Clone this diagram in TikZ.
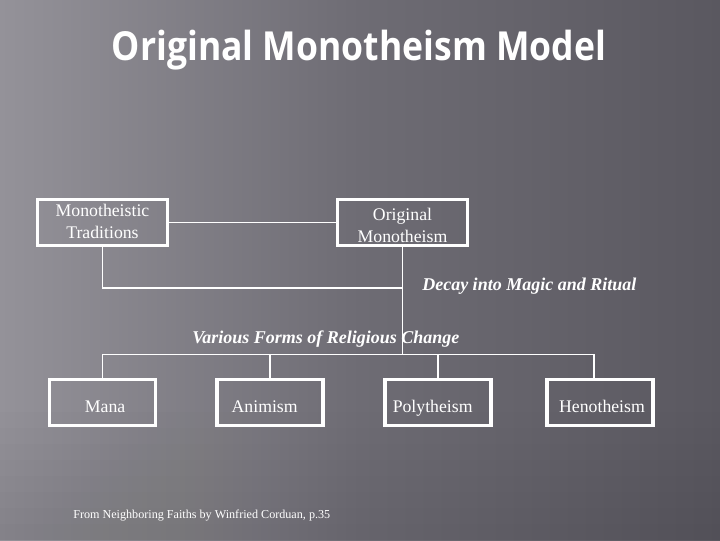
\documentclass[tikz,border=0pt]{standalone}
\usepackage{fontspec}
\usepackage{graphicx}
\setmainfont{Liberation Serif}
\newfontfamily\titlefont{Open Sans}
\definecolor{bgL}{RGB}{148,146,153}
\definecolor{bgM}{RGB}{110,108,116}
\definecolor{bgR}{RGB}{90,88,96}
% #1 centre x, #2 centre y, #3 back length, #4 forward length, #5 half width, #6 opacity
\newcommand{\glowstreak}[6]{%
  \begin{scope}[shift={(#1,#2)}, rotate=-33]
    \foreach \i in {1,...,5}{%
      \foreach \k in {1,...,8}{%
        \fill[white, opacity=#6/40]
          (-#3,{-\k*#5/8}) rectangle ({#4*(0.3+0.7*\i/5)},{\k*#5/8});
      }}
  \end{scope}}
\tikzset{
  box/.style={draw=white, line width=2.3pt, text=white, align=center,
    inner sep=0pt, font=\fontsize{13.3}{16.4}\selectfont},
  lowbox/.style={box, minimum width=79.5pt, minimum height=35pt,
    text height=14.6pt, text depth=0pt},
  conn/.style={draw=white, line width=0.8pt},
  lbl/.style={text=white, font=\fontsize{13.5}{15}\selectfont\bfseries\itshape, inner sep=0pt},
}
\begin{document}
\begin{tikzpicture}[x=0.75pt,y=-0.75pt]
\useasboundingbox (0,0) rectangle (720,540);
% background
\shade[left color=bgL, right color=bgR, middle color=bgM] (0,0) rectangle (720,540);
\begin{scope}
\clip (0,0) rectangle (720,540);
\glowstreak{150}{110}{400}{420}{70}{0.15}
\glowstreak{90}{330}{300}{300}{45}{0.12}
\glowstreak{40}{470}{300}{260}{35}{0.10}
\glowstreak{330}{100}{400}{260}{35}{0.06}
\foreach \k in {1,...,8}{%
  \fill[black, opacity=0.007] (0,{540-\k*16}) rectangle (720,540);
}
\end{scope}
% title
\node[text=white, inner sep=0pt, anchor=base, font=\titlefont\fontsize{30}{34}\selectfont\bfseries] (title) at (359,60) {\resizebox{370.5pt}{\height}{Original Monotheism Model}};
% boxes
\node[box, minimum width=97.5pt, minimum height=34.5pt, text height=23.25pt, text depth=0pt] (mt) at (102.5,222.5) {Monotheistic\\Traditions};
\node[box, minimum width=97.5pt, minimum height=34.5pt, text height=29.25pt, text depth=0pt] (om) at (402.5,222.5) {Original\\Monotheism};
\node[lowbox] (mana) at (102.5,402.5) {\hspace*{4pt}Mana};
\node[lowbox] (ani) at (270,402.5) {\hspace*{-8pt}Animism};
\node[lowbox] (poly) at (438,402.5) {\hspace*{-8pt}Polytheism};
\node[lowbox] (hen) at (600,402.5) {\hspace*{3pt}Henotheism};
% labels
\node[lbl, anchor=base west] (decay) at (422,290.5) {Decay into Magic and Ritual};
\node[lbl, anchor=base west] (vary) at (192,343) {Various Forms of Religious Change};
\node[text=white, inner sep=0pt, anchor=base west, font=\fontsize{9.1}{10}\selectfont] (src) at (73,518) {From Neighboring Faiths by Winfried Corduan, p.35};
% connectors
\coordinate (j1) at (402.5,288);
\coordinate (bar) at (0,354.5);
\draw[conn] (mt.east) -- (om.west);
\draw[conn] (mt.south) |- (j1);
\draw[conn] (om.south) -- (om.south |- bar);
\draw[conn] (mana.north) -- (mana.north |- bar) -- ([xshift=-4.5pt]hen.north |- bar) -- ([xshift=-4.5pt]hen.north);
\draw[conn] (ani.north) -- (ani.north |- bar);
\draw[conn] (poly.north) -- (poly.north |- bar);
\end{tikzpicture}
\end{document}
